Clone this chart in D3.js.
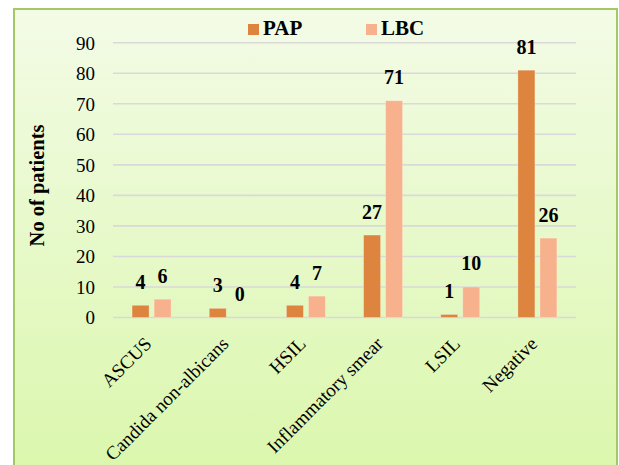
<!DOCTYPE html>
<html><head><meta charset="utf-8">
<script src="https://cdn.jsdelivr.net/npm/d3@7"></script>
<style>html,body{margin:0;padding:0;background:#fff;}svg{display:block;}
svg text{font-family:"Liberation Serif","Times New Roman",serif;}</style>
</head><body>
<svg id="c" width="619" height="465"></svg>
<script>
const categories = ["ASCUS","Candida non-albicans","HSIL","Inflammatory smear","LSIL","Negative"];
const seriesNames = ["PAP","LBC"];
const papValues = [4,3,4,27,1,81];
const lbcValues = [6,0,7,71,10,26];
const yTicks = [0,10,20,30,40,50,60,70,80,90];
const colors = ["#dd843f","#f8b18d"];

const svg = d3.select("#c");
const font = "Liberation Serif, Times New Roman, serif";

const defs = svg.append("defs");
const grad = defs.append("linearGradient").attr("id","bg").attr("x1",0).attr("y1",0).attr("x2",0).attr("y2",1);
grad.append("stop").attr("offset","0%").attr("stop-color","#f3fbe6");
grad.append("stop").attr("offset","100%").attr("stop-color","#daf7ab");

svg.append("rect").attr("x",14).attr("y",9).attr("width",603).attr("height",475)
  .attr("fill","url(#bg)").attr("stroke","#a3c865").attr("stroke-width",2);

const x0 = d3.scaleBand().domain(categories).range([113,576]).padding(0);
const bw = x0.bandwidth();
const x1 = d3.scaleBand().domain(seriesNames).range([bw/2-19.5, bw/2+19.5]).paddingInner(5/22).paddingOuter(0);
const y = d3.scaleLinear().domain([0,90]).range([317.5,42.7]);

// gridlines
svg.append("g").selectAll("line").data(yTicks).join("line")
  .attr("x1",113).attr("x2",576)
  .attr("y1",d=>y(d)).attr("y2",d=>y(d))
  .attr("stroke","#d9d9d9").attr("stroke-width",1.6);

// y axis labels
const yAxis = d3.axisLeft(y).tickValues(yTicks).tickSize(0).tickPadding(0);
const ya = svg.append("g").attr("transform","translate(95,0)").call(yAxis);
ya.attr("font-family",null);
ya.select(".domain").remove();
ya.selectAll("text").style("font-family",font).attr("font-size",19).attr("fill","#000").attr("dy","0.34em");

// y title
svg.append("text").attr("transform","translate(44,185.5) rotate(-90)")
  .attr("text-anchor","middle").style("font-family",font).attr("font-weight","bold")
  .attr("font-size",20.5).attr("fill","#000").text("No of patients");

const data = categories.map((c,i)=>({cat:c, vals:[{s:"PAP",v:papValues[i]},{s:"LBC",v:lbcValues[i]}]}));

const groups = svg.append("g").selectAll("g").data(data).join("g")
  .attr("transform",d=>`translate(${x0(d.cat)},0)`);

groups.selectAll("rect").data(d=>d.vals).join("rect")
  .attr("x",d=>x1(d.s)).attr("width",x1.bandwidth())
  .attr("y",d=>y(d.v)).attr("height",d=>y(0)-y(d.v))
  .attr("fill",(d,i)=>colors[i])
  .attr("stroke","rgba(255,255,255,0.35)").attr("stroke-width",0.8);

groups.selectAll("text").data(d=>d.vals).join("text")
  .attr("x",d=>x1(d.s)+x1.bandwidth()/2)
  .attr("y",d=>y(d.v)-16.5)
  .attr("text-anchor","middle").style("font-family",font).attr("font-weight","bold")
  .attr("font-size",20).attr("fill","#000").text(d=>d.v);

// x labels
const xAxis = d3.axisBottom(x0).tickSize(0).tickPadding(0);
const xa = svg.append("g").call(xAxis);
xa.attr("font-family",null);
xa.select(".domain").remove();
xa.selectAll(".tick").attr("transform",d=>`translate(${x0(d)+bw/2-3},341)`);
xa.selectAll("text").attr("transform","rotate(-45)").attr("text-anchor","end")
  .attr("x",0).attr("y",0).attr("dy","0.3em")
  .style("font-family",font).attr("font-size",19).attr("fill","#000");

// legend
const leg = svg.append("g");
const legX = [248,366];
seriesNames.forEach((s,i)=>{
  leg.append("rect").attr("x",legX[i]).attr("y",24).attr("width",11).attr("height",11).attr("fill",colors[i]);
  leg.append("text").attr("x",legX[i]+15).attr("y",35).style("font-family",font)
    .attr("font-weight","bold").attr("font-size",21).attr("fill","#000").text(s);
});
</script>
</body></html>
